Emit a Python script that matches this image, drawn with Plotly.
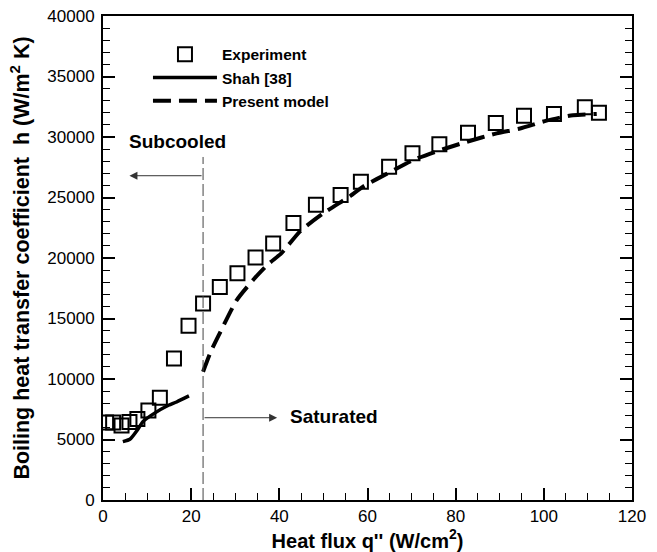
import plotly.graph_objects as go

# Experimental data
exp_q = [0.7, 2.3, 4.2, 6.0, 7.8, 10.3, 12.9, 16.1, 19.4, 22.7, 26.5, 30.5, 34.6, 38.6,
         43.2, 48.3, 53.9, 58.5, 64.9, 70.2, 76.3, 82.8, 89.1, 95.5, 102.3, 109.3, 112.5]
exp_h = [6400, 6400, 6150, 6450, 6700, 7400, 8450, 11700, 14400, 16250, 17600, 18750,
         20050, 21200, 22900, 24400, 25200, 26300, 27550, 28650, 29400, 30350, 31150,
         31750, 31900, 32450, 32000]

# Shah [38] correlation
shah_q = [4.5, 6.1, 7.8, 9.1, 11.8, 14.4, 16.7, 19.5]
shah_h = [4820, 5020, 5790, 6500, 7200, 7750, 8100, 8600]

# Present model
model_q = [22.7, 24.5, 26.5, 30.3, 34.1, 37.5, 40.5, 44.7, 50.0, 56.0, 59.0, 65.1, 70.4,
           76.4, 82.5, 89.3, 94.6, 100.6, 106.6, 112.0]
model_h = [10600, 12300, 13800, 16500, 18200, 19500, 20400, 22200, 23700, 25100, 25900,
           27100, 28100, 28900, 29600, 30300, 30700, 31350, 31800, 31900]

transition_q = 22.7
subcooled_arrow = dict(x0=transition_q, x1=6.0, h=26800)
saturated_arrow = dict(x0=transition_q, x1=39.5, h=6800)

FONT = "Liberation Sans, Arial, sans-serif"

fig = go.Figure()
fig.add_trace(go.Scatter(
    x=exp_q, y=exp_h, mode="markers", name="Experiment",
    marker=dict(symbol="square-open", size=14, color="black", line=dict(width=2, color="black")),
))
fig.add_trace(go.Scatter(
    x=shah_q, y=shah_h, mode="lines", name="Shah [38]",
    line=dict(color="black", width=3.5, shape="spline", smoothing=0.5),
))
fig.add_trace(go.Scatter(
    x=model_q, y=model_h, mode="lines", name="Present model",
    line=dict(color="black", width=4, dash="18px,8px", shape="spline", smoothing=0.6),
))

# vertical boundary line
fig.add_shape(type="line", x0=transition_q, x1=transition_q, y0=0, y1=28350,
              xref="x", yref="y", line=dict(color="#444444", width=1, dash="12px,4px"))

# arrows
for arr in (subcooled_arrow, saturated_arrow):
    fig.add_annotation(x=arr["x1"], y=arr["h"], ax=arr["x0"], ay=arr["h"],
                       xref="x", yref="y", axref="x", ayref="y", text="",
                       showarrow=True, arrowhead=2, arrowsize=1.6, arrowwidth=1,
                       arrowcolor="#333333")

fig.add_annotation(x=16.8, y=29610, xref="x", yref="y", text="<b>Subcooled</b>",
                   showarrow=False, font=dict(family=FONT, size=19, color="black"))
fig.add_annotation(x=52.4, y=6860, xref="x", yref="y", text="<b>Saturated</b>",
                   showarrow=False, font=dict(family=FONT, size=19, color="black"))

fig.update_layout(
    width=657, height=552,
    margin=dict(l=103, r=25, t=16, b=52),
    paper_bgcolor="white", plot_bgcolor="white",
    font=dict(family=FONT, size=17, color="black"),
    showlegend=True,
    legend=dict(x=0.085, y=0.955, xanchor="left", yanchor="top",
                bgcolor="rgba(0,0,0,0)",
                font=dict(family=FONT, size=15.5, color="black", weight="bold"),
                itemwidth=64, tracegroupgap=0),
    xaxis=dict(
        range=[0, 120], dtick=20, tick0=0, automargin=False,
        showline=True, linecolor="black", linewidth=2, mirror=True,
        ticks="inside", ticklen=12, tickwidth=2, tickcolor="black",
        minor=dict(ticks="inside", ticklen=7, tickwidth=1, tickcolor="black", dtick=5),
        showgrid=False, zeroline=False, tickformat="d",
        tickfont=dict(family=FONT, size=17, color="black"),
        title=dict(text="<b>Heat flux q'' (W/cm<sup>2</sup>)</b>",
                   font=dict(family=FONT, size=20, color="black"), standoff=4),
    ),
    yaxis=dict(
        range=[0, 40000], dtick=5000, tick0=0, automargin=False,
        showline=True, linecolor="black", linewidth=2, mirror="allticks",
        ticks="inside", ticklen=12, tickwidth=2, tickcolor="black",
        minor=dict(ticks="inside", ticklen=7, tickwidth=1, tickcolor="black", dtick=1000),
        showgrid=False, zeroline=False, tickformat="d", ticklabelstandoff=3,
        tickfont=dict(family=FONT, size=17, color="black"),
        title=dict(text="<b>Boiling heat transfer coefficient  h (W/m<sup>2</sup> K)</b>",
                   font=dict(family=FONT, size=21.5, color="black"), standoff=12),
    ),
)

fig.write_html(
    "out.html",
    config={"displayModeBar": False},
    post_script="document.body.style.margin='0px';document.body.style.overflow='hidden';",
)
